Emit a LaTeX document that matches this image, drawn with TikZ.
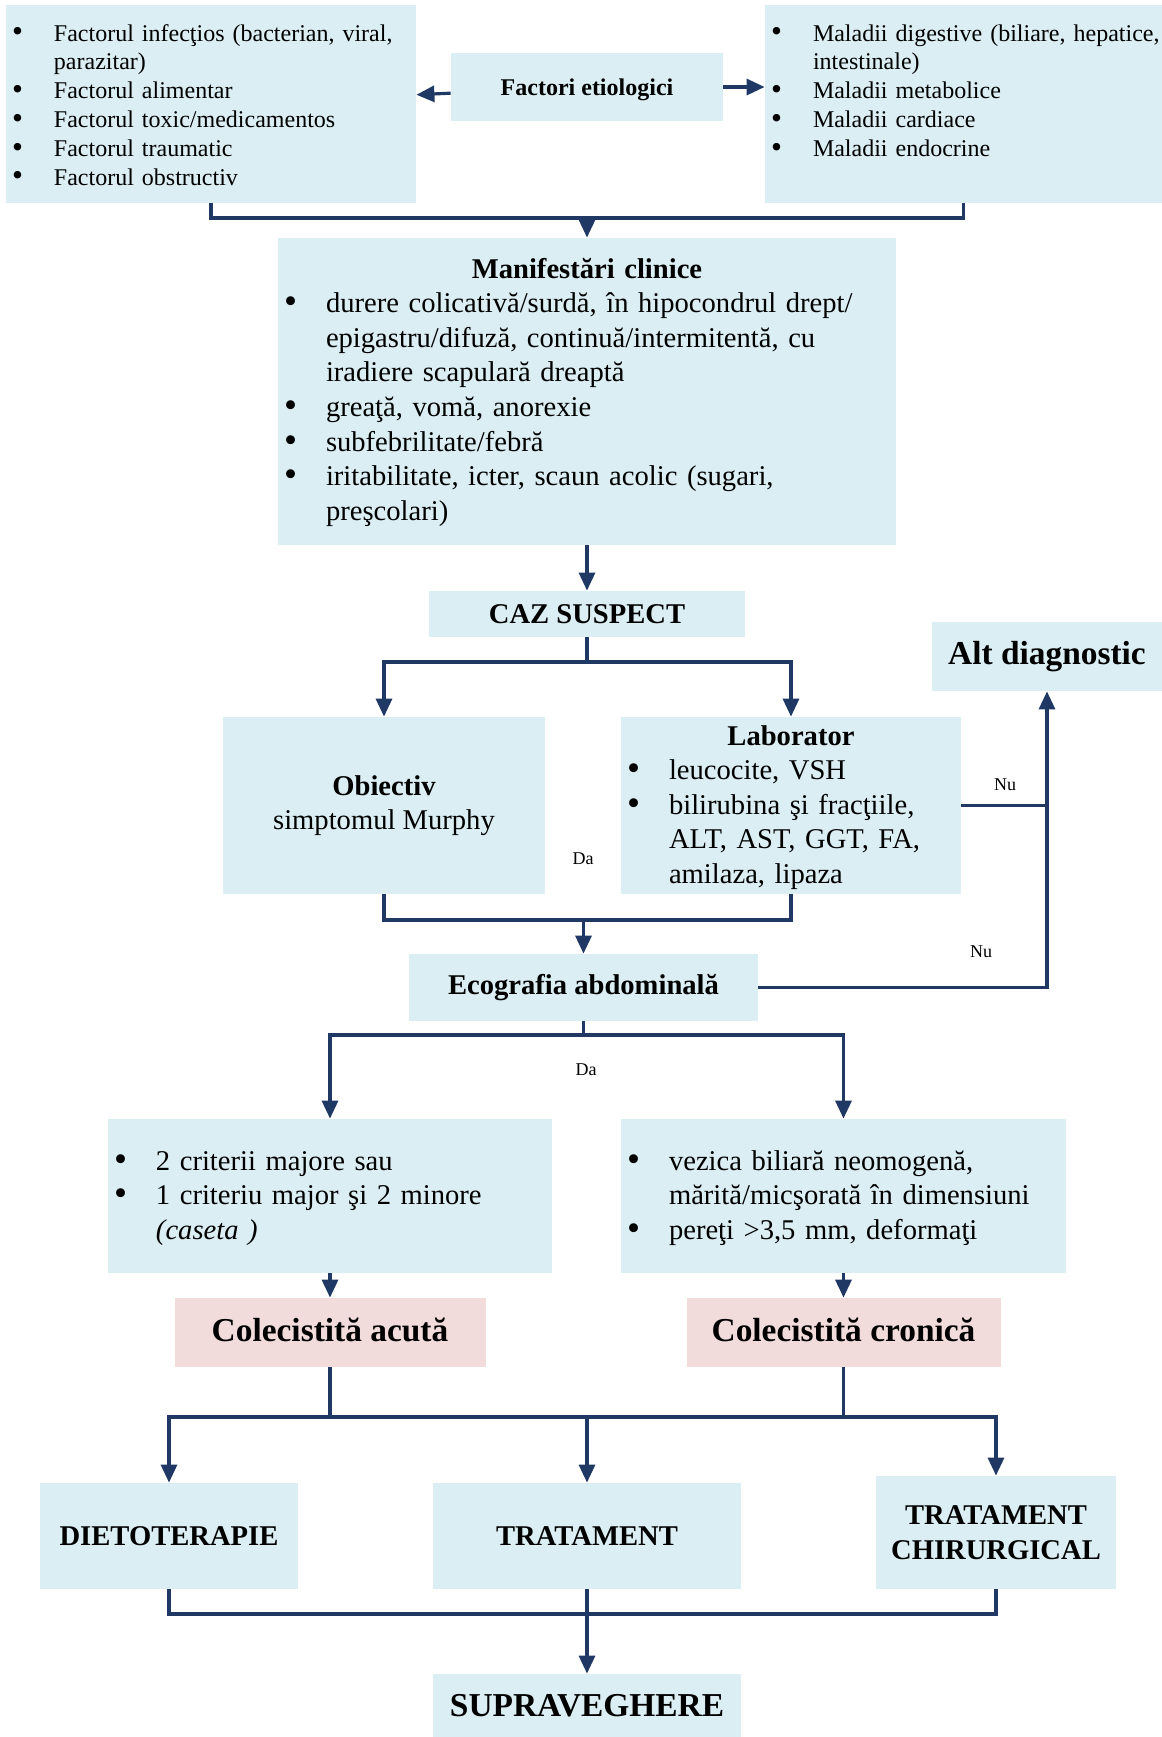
\documentclass[tikz,border=0pt]{standalone}
\usepackage{fontspec}
\setmainfont{Liberation Serif}
\usepackage{graphicx}
\usepackage{enumitem}
\usetikzlibrary{arrows.meta}
\definecolor{boxblue}{HTML}{DAEEF3}
\definecolor{boxpink}{HTML}{F2DCDB}
\definecolor{linkblue}{HTML}{1F3864}
\newlist{blist}{itemize}{1}
\setlist[blist]{label=\raisebox{-0.04em}{\scalebox{1.3}{\textbullet}}, nosep, leftmargin=24pt, labelindent=3pt, labelwidth=10pt, labelsep=*, align=left}
\begin{document}
\begin{tikzpicture}[x=0.5pt, y=-0.5pt,
  box/.style={fill=boxblue, inner sep=0pt, align=center, font=\fontsize{14.3}{17.3}\selectfont},
  listbox/.style={box, align=left, text width=#1},
  small/.style={font=\fontsize{12}{14.4}\selectfont},
  headbox/.style={box, font=\fontsize{14.3}{17.3}\selectfont\bfseries},
  bigbox/.style={box, font=\fontsize{16.7}{20}\selectfont\bfseries},
  conn/.style={draw=linkblue, line width=1.6pt},
  arr/.style={conn, -{Triangle[length=9pt,width=8pt]}},
  yesno/.style={font=\fontsize{9}{10}\selectfont, inner sep=0pt}]
  \useasboundingbox (0,0) rectangle (1162,1737);
  \node[listbox=205pt, minimum height=99pt, small, text height=3.6pt, text depth=95.4pt] (causes) at (211,104) {\begin{blist}
      \item Factorul infecţios (bacterian, viral,\newline parazitar)
      \item Factorul alimentar
      \item Factorul toxic/medicamentos
      \item Factorul traumatic
      \item Factorul obstructiv
    \end{blist}};
  \node[box, minimum width=136pt, minimum height=34pt, text depth=0pt, font=\fontsize{12}{14.4}\selectfont\bfseries] (etio) at (587,87) {Factori etiologici};
  \node[listbox=198.5pt, minimum height=99pt, small, text height=3.6pt, text depth=95.4pt] (diseases) at (963.5,104) {\begin{blist}
      \item Maladii digestive (biliare, hepatice,\newline intestinale)
      \item Maladii metabolice
      \item Maladii cardiace
      \item Maladii endocrine
    \end{blist}};
  \node[listbox=309pt, minimum height=153.5pt, text height=20pt, text depth=133.5pt] (clinic) at (587,391.5) {{\centering\bfseries Manifestări clinice\par}
    \begin{blist}
      \item durere colicativă/surdă, în hipocondrul drept/\newline epigastru/difuză, continuă/intermitentă, cu\newline iradiere scapulară dreaptă
      \item greaţă, vomă, anorexie
      \item subfebrilitate/febră
      \item iritabilitate, icter, scaun acolic (sugari,\newline preşcolari)
    \end{blist}};
  \node[headbox, minimum width=158pt, minimum height=23pt] (suspect) at (587,614) {CAZ SUSPECT};
  \node[box, minimum width=161pt, minimum height=88.5pt] (exam) at (384,805.5) {\textbf{Obiectiv}\\simptomul Murphy};
  \node[listbox=170pt, minimum height=88.5pt, text height=14pt, text depth=74.5pt] (lab) at (791,805.5) {{\centering\bfseries Laborator\par}
    \begin{blist}
      \item leucocite, VSH
      \item bilirubina şi fracţiile,\newline ALT, AST, GGT, FA,\newline amilaza, lipaza
    \end{blist}};
  \node[bigbox, minimum width=115pt, minimum height=34.5pt] (other) at (1047,656.5) {Alt diagnostic};
  \node[headbox, minimum width=174.5pt, minimum height=33.5pt] (echo) at (583.5,987.5) {Ecografia abdominală};
  \node[listbox=222pt, minimum height=77pt, text height=8.2pt, text depth=68.8pt] (acrit) at (330,1196) {\begin{blist}
      \item 2 criterii majore sau
      \item 1 criteriu major şi 2 minore\newline \textit{(caseta )}
    \end{blist}};
  \node[listbox=222.5pt, minimum height=77pt, text height=8.2pt, text depth=68.8pt] (ccrit) at (843.5,1196) {\begin{blist}
      \item vezica biliară neomogenă,\newline mărită/micşorată în dimensiuni
      \item pereţi >3,5 mm, deformaţi
    \end{blist}};
  \node[bigbox, fill=boxpink, minimum width=155.5pt, minimum height=34.5pt, text height=11pt, text depth=2pt] (acute) at (330,1332.5) {Colecistită acută};
  \node[bigbox, fill=boxpink, minimum width=157pt, minimum height=34.5pt, text height=11pt, text depth=2pt] (chronic) at (843.5,1332.5) {Colecistită cronică};
  \node[headbox, minimum width=128.75pt, minimum height=53pt] (diet) at (169,1536) {DIETOTERAPIE};
  \node[headbox, minimum width=154pt, minimum height=53pt] (drugs) at (587,1536) {TRATAMENT};
  \node[headbox, minimum width=120pt, minimum height=56.5pt] (surgery) at (996,1532.5) {TRATAMENT\\CHIRURGICAL};
  \node[bigbox, minimum width=154pt, minimum height=31.5pt] (follow) at (587,1705.5) {SUPRAVEGHERE};
  \node[yesno] (no1) at (1005,785) {Nu};
  \node[yesno] (no2) at (981,952) {Nu};
  \node[yesno] (yes1) at (583,859) {Da};
  \node[yesno] (yes2) at (586,1070) {Da};
  \coordinate (j1) at (587,218);
  \coordinate (j2) at (587,662);
  \coordinate (j3) at (583.5,920);
  \coordinate (j5) at (583.5,1035);
  \coordinate (j6) at (587,1417);
  \coordinate (j7) at (587,1614);
  \draw[arr] (etio) -- (causes);
  \draw[arr] (etio) -- (diseases.west |- etio);
  \draw[conn] (causes.south) |- (j1) -| (diseases.south);
  \draw[arr] (j1) -- (clinic.north);
  \draw[arr] (clinic) -- (suspect);
  \draw[conn] (suspect.south) -- (j2);
  \draw[arr] (j2) -| (exam.north);
  \draw[arr] (j2) -| (lab.north);
  \draw[conn] (exam.south) |- (j3) -| (lab.south);
  \draw[arr] (j3) -- (echo.north);
  \draw[conn] (lab.east) -- (lab.east -| other.south);
  \draw[arr] (echo.east) -| (other.south);
  \draw[conn] (echo.south) -- (j5);
  \draw[arr] (j5) -| (acrit.north);
  \draw[arr] (j5) -| (ccrit.north);
  \draw[arr] (acrit) -- (acute);
  \draw[arr] (ccrit) -- (chronic);
  \draw[conn] (acute.south) -- (acute.south |- j6);
  \draw[conn] (chronic.south) -- (chronic.south |- j6);
  \draw[arr] (j6) -| (diet.north);
  \draw[arr] (j6) -| (surgery.north);
  \draw[arr] (j6) -- (drugs.north);
  \draw[conn] (diet.south) |- (j7) -| (surgery.south);
  \draw[arr] (drugs) -- (follow);
\end{tikzpicture}
\end{document}
